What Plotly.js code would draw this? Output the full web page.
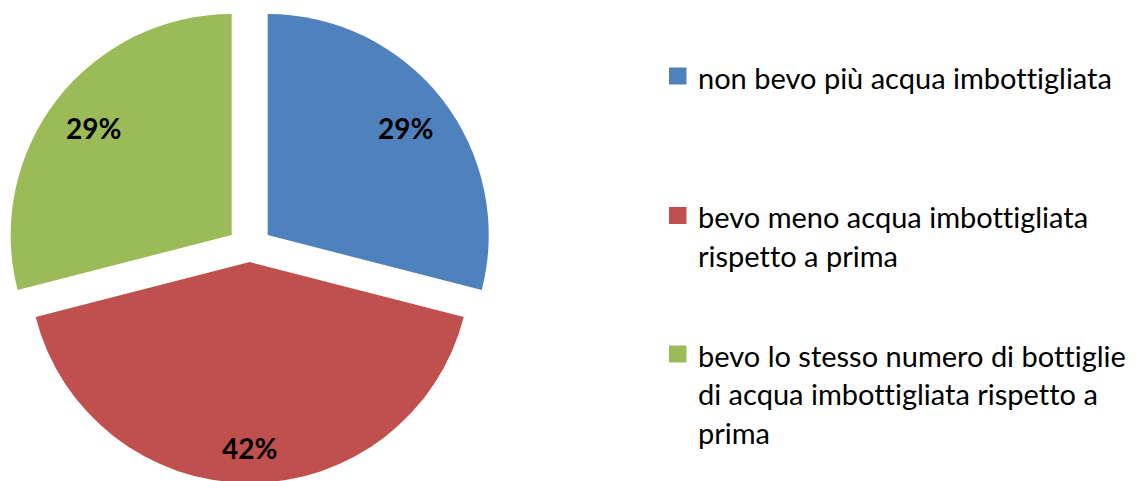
<!DOCTYPE html>
<html>
<head>
<meta charset="utf-8">
<script src="https://cdn.plot.ly/plotly-3.0.1.min.js"></script>
<style>
html, body { margin:0; padding:0; overflow:hidden; background:#fff; }
#chart { width:1138px; height:498px; }
svg text { font-variant-ligatures: none; font-feature-settings: "liga" 0, "clig" 0; }
</style>
</head>
<body>
<div id="chart"></div>
<script>
// ---- data ----
const categories = [
  "non bevo più acqua imbottigliata",
  "bevo meno acqua imbottigliata rispetto a prima",
  "bevo lo stesso numero di bottiglie di acqua imbottigliata rispetto a prima"
];
const values = [29, 42, 29];
const colors = ["#4F81BD", "#C0504D", "#9BBB59"];

// ---- layout helpers ----
const W = 1138, H = 498;
const FONT = "Lato, 'Open Sans', sans-serif";

function wrap(text, maxChars) {
  const words = text.split(" ");
  const lines = [];
  let cur = "";
  words.forEach(w => {
    const trial = cur ? cur + " " + w : w;
    if (trial.length > maxChars && cur) { lines.push(cur); cur = w; }
    else cur = trial;
  });
  if (cur) lines.push(cur);
  return lines;
}

const legendTop = [77, 216.5, 355];   // pixel centre of first line of each item
const lineGap = 38.5;
const textX = 697;
const annotations = [];
const shapes = [];
categories.forEach((c, i) => {
  const lines = wrap(c, 34);
  lines.forEach((ln, j) => {
    annotations.push({
      xref: "paper", yref: "paper",
      x: textX / W, y: 1 - (legendTop[i] + j * lineGap) / H,
      xanchor: "left", yanchor: "middle",
      text: ln, showarrow: false, borderpad: 0,
      font: { family: FONT, size: 29, color: "#000" }
    });
  });
  const cy = legendTop[i] - 1;
  shapes.push({
    type: "rect", xref: "paper", yref: "paper",
    x0: 669 / W, x1: 686.5 / W,
    y0: 1 - (cy + 8.5) / H, y1: 1 - (cy - 8.5) / H,
    fillcolor: colors[i], line: { width: 0 }
  });
});

const pulls = [0.103, 0.059, 0.103];
const domain = { x: [5.9 / W, 493.5 / W], y: [1 - 492.8 / H, 1 - 5.2 / H] };
const pctFmt = "%{percent:.0%}";
const common = {
  type: "pie",
  labels: categories,
  values: values,
  sort: false,
  direction: "clockwise",
  rotation: 0,
  pull: pulls,
  domain: domain,
  showlegend: false,
  hoverinfo: "label+percent",
  textposition: "inside",
  insidetextorientation: "horizontal",
  textfont: { family: FONT, size: 28, color: "#000", weight: "bold" }
};

// base pie: coloured slices, no text
const base = Object.assign({}, common, {
  marker: { colors: colors, line: { width: 0 } },
  textinfo: "none"
});
// transparent ring traces only used to place the percentage labels near the rim
const clear = values.map(() => "rgba(0,0,0,0)");
const labelsOuter = Object.assign({}, common, {
  hole: 0.58,
  marker: { colors: clear, line: { width: 0 } },
  texttemplate: values.map((v, i) => (i === 1 ? "" : pctFmt))
});
const labelsBottom = Object.assign({}, common, {
  hole: 0.68,
  marker: { colors: clear, line: { width: 0 } },
  texttemplate: values.map((v, i) => (i === 1 ? pctFmt : ""))
});

const layout = {
  width: W, height: H,
  margin: { l: 0, r: 0, t: 0, b: 0 },
  paper_bgcolor: "#fff",
  showlegend: false,
  annotations: annotations,
  shapes: shapes
};

Plotly.newPlot("chart", [base, labelsOuter, labelsBottom], layout, { displayModeBar: false, staticPlot: true });
</script>
</body>
</html>
